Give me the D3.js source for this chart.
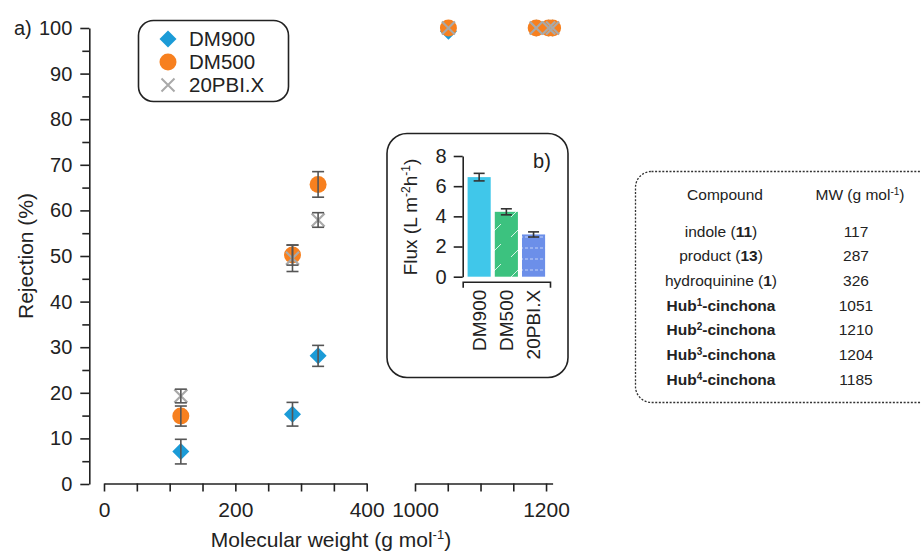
<!doctype html>
<html>
<head>
<meta charset="utf-8">
<title>Rejection vs molecular weight</title>
<style>
  body { margin: 0; background: #fff; }
  svg { font-family: "Liberation Sans", Arial, sans-serif; }
  .axis path, .axis line { stroke: #222; stroke-width: 1.6px; }
  .axis text { fill: #222; }
</style>
<script src="https://cdn.jsdelivr.net/npm/d3@7"></script>
</head>
<body>
<script>
// --- data ---------------------------------------------------------------
var compoundMW = [117, 287, 326, 1051, 1210, 1204, 1185];
var dm900 = [7.1, 15.3, 28.1, 99.3, 100, 100, 100];
var dm900Err = [2.7, 2.6, 2.3, 0, 0, 0, 0];
var dm500 = [14.9, 50.2, 65.7, 100, 100, 100, 100];
var dm500Err = [2.2, 2.2, 2.8, 0, 0, 0, 0];
var pbi = [19.3, 49.5, 57.9, 100, 100, 100, 100];
var pbiErr = [1.5, 2.9, 1.6, 0, 0, 0, 0];

var membranes = ["DM900", "DM500", "20PBI.X"];
var flux = [6.6, 4.3, 2.8];
var fluxErr = [0.25, 0.2, 0.17];

// table rows: list of [text, bold, superscript]
var compoundNames = [
  [["indole (", 0, 0], ["11", 1, 0], [")", 0, 0]],
  [["product (", 0, 0], ["13", 1, 0], [")", 0, 0]],
  [["hydroquinine (", 0, 0], ["1", 1, 0], [")", 0, 0]],
  [["Hub", 1, 0], ["1", 1, 1], ["-cinchona", 1, 0]],
  [["Hub", 1, 0], ["2", 1, 1], ["-cinchona", 1, 0]],
  [["Hub", 1, 0], ["3", 1, 1], ["-cinchona", 1, 0]],
  [["Hub", 1, 0], ["4", 1, 1], ["-cinchona", 1, 0]]
];

var yTicks = d3.range(0, 101, 10);
var yMinor = d3.range(5, 100, 10);
var xTicksLow = d3.range(0, 401, 50);
var xTicksHigh = d3.range(1000, 1201, 50);

var blue = "#1b9bd7", orange = "#f7801f", grey = "#a9a9a9", errCol = "#555";

var svg = d3.select("body").append("svg")
    .attr("width", 921)
    .attr("height", 554);

// --- panel a ------------------------------------------------------------
var y = d3.scaleLinear().domain([0, 100]).range([484, 28]);
var xLow = d3.scaleLinear().domain([0, 400]).range([104, 366.7]);
var xHigh = d3.scaleLinear().domain([1000, 1210]).range([415, 552.6]);
function xPos(v) { return v < 700 ? xLow(v) : xHigh(v); }

svg.append("g").attr("class", "axis")
    .attr("transform", "translate(89.3,0)")
    .call(d3.axisLeft(y).tickValues(yTicks).tickSize(9).tickSizeOuter(0).tickPadding(8))
    .selectAll("text").style("font-size", "20px");

svg.append("g").attr("class", "axis")
    .attr("transform", "translate(89.3,0)")
    .call(d3.axisLeft(y).tickValues(yMinor).tickSize(7).tickFormat(""))
    .select(".domain").remove();

svg.append("g").attr("class", "axis")
    .attr("transform", "translate(0,483.5)")
    .call(d3.axisBottom(xLow).tickValues(xTicksLow).tickSize(8).tickSizeOuter(0).tickPadding(11)
        .tickFormat(function(d) { return d % 200 === 0 ? d : ""; }))
    .selectAll("text").style("font-size", "21px");

svg.append("g").attr("class", "axis")
    .attr("transform", "translate(0,483.5)")
    .call(d3.axisBottom(xHigh).tickValues(xTicksHigh).tickSize(8).tickSizeOuter(0).tickPadding(11)
        .tickFormat(function(d) { return d % 200 === 0 ? d : ""; }))
    .selectAll("text").style("font-size", "21px");

svg.append("text")
    .attr("x", 14).attr("y", 35)
    .style("font-size", "20px").attr("fill", "#222")
    .text("a)");

svg.append("text")
    .attr("transform", "translate(33,256)rotate(-90)")
    .attr("text-anchor", "middle")
    .style("font-size", "21px").attr("fill", "#222")
    .text("Rejection (%)");

var xt = svg.append("text")
    .attr("x", 331).attr("y", 547)
    .attr("text-anchor", "middle")
    .style("font-size", "21px").attr("fill", "#222");
xt.append("tspan").text("Molecular weight (g mol");
xt.append("tspan").attr("dy", -8).style("font-size", "13px").text("-1");
xt.append("tspan").attr("dy", 8).text(")");

var diamond = "M0,-8.5L8.5,0L0,8.5L-8.5,0Z";
var cross = "M-6.5,-6.5L6.5,6.5M-6.5,6.5L6.5,-6.5";

function points(vals) {
    return vals.map(function(v, i) { return { x: compoundMW[i], y: v }; });
}

var marks = svg.append("g");
marks.selectAll(".d900").data(points(dm900)).enter().append("path")
    .attr("d", diamond).attr("fill", blue)
    .attr("transform", function(d) { return "translate(" + xPos(d.x) + "," + y(d.y) + ")"; });
marks.selectAll(".d500").data(points(dm500)).enter().append("circle")
    .attr("r", 8.5).attr("fill", orange)
    .attr("cx", function(d) { return xPos(d.x); })
    .attr("cy", function(d) { return y(d.y); });
marks.selectAll(".pbi").data(points(pbi)).enter().append("path")
    .attr("d", cross).attr("stroke", grey).attr("stroke-width", 2.2).attr("fill", "none")
    .attr("transform", function(d) { return "translate(" + xPos(d.x) + "," + y(d.y) + ")"; });

function errorBars(vals, errs) {
    var rows = vals.map(function(v, i) { return { x: compoundMW[i], y: v, e: errs[i] }; })
        .filter(function(d) { return d.e > 0; });
    var g = svg.append("g").attr("stroke", errCol).attr("stroke-width", 1.6);
    rows.forEach(function(d) {
        var cx = xPos(d.x);
        g.append("line").attr("x1", cx).attr("x2", cx).attr("y1", y(d.y - d.e)).attr("y2", y(d.y + d.e));
        g.append("line").attr("x1", cx - 6).attr("x2", cx + 6).attr("y1", y(d.y - d.e)).attr("y2", y(d.y - d.e));
        g.append("line").attr("x1", cx - 6).attr("x2", cx + 6).attr("y1", y(d.y + d.e)).attr("y2", y(d.y + d.e));
    });
}
errorBars(dm900, dm900Err);
errorBars(dm500, dm500Err);
errorBars(pbi, pbiErr);

// legend
var legend = svg.append("g");
legend.append("rect")
    .attr("x", 138.5).attr("y", 20.5).attr("width", 150).attr("height", 81)
    .attr("rx", 15).attr("fill", "#fff").attr("stroke", "#222").attr("stroke-width", 1.6);
[0, 1, 2].forEach(function(i) {
    var ly = 39 + i * 23;
    if (i === 0) legend.append("path").attr("d", diamond).attr("fill", blue)
        .attr("transform", "translate(168," + ly + ")");
    if (i === 1) legend.append("circle").attr("r", 8.5).attr("fill", orange)
        .attr("cx", 168).attr("cy", ly);
    if (i === 2) legend.append("path").attr("d", cross).attr("stroke", grey)
        .attr("stroke-width", 2).attr("fill", "none")
        .attr("transform", "translate(168," + ly + ")");
    legend.append("text").attr("x", 189).attr("y", ly + 7)
        .style("font-size", "20.5px").attr("fill", "#222")
        .text(membranes[i]);
});

// --- panel b (inset) ----------------------------------------------------
var defs = svg.append("defs");
var p1 = defs.append("pattern").attr("id", "diag")
    .attr("patternUnits", "userSpaceOnUse").attr("width", 23).attr("height", 20);
p1.append("rect").attr("width", 23).attr("height", 20).attr("fill", "#3cc27f");
p1.append("path").attr("d", "M5,17L18,4").attr("stroke", "#fff").attr("stroke-opacity", 0.8).attr("stroke-width", 1);
var p2 = defs.append("pattern").attr("id", "dash")
    .attr("patternUnits", "userSpaceOnUse").attr("width", 5).attr("height", 11);
p2.append("rect").attr("width", 5).attr("height", 11).attr("fill", "#6c8fe9");
p2.append("path").attr("d", "M0,6H3").attr("stroke", "#fff").attr("stroke-opacity", 0.6).attr("stroke-width", 1);
var barFill = ["#40c7ea", "url(#diag)", "url(#dash)"];

svg.append("rect")
    .attr("x", 387).attr("y", 133.5).attr("width", 181).attr("height", 244)
    .attr("rx", 20).attr("fill", "#fff").attr("stroke", "#222").attr("stroke-width", 1.6);

var yb = d3.scaleLinear().domain([0, 8]).range([276.7, 156]);
var xb = d3.scaleBand().domain(membranes).range([462.7, 550])
    .paddingInner(0.15).paddingOuter(0.18);

svg.selectAll(".bar").data(membranes).enter().append("rect")
    .attr("x", function(d) { return xb(d); })
    .attr("width", xb.bandwidth())
    .attr("y", function(d, i) { return yb(flux[i]); })
    .attr("height", function(d, i) { return yb(0) - yb(flux[i]); })
    .attr("fill", function(d, i) { return barFill[i]; });

var eb = svg.append("g").attr("stroke", "#333").attr("stroke-width", 1.6);
membranes.forEach(function(m, i) {
    var cx = xb(m) + xb.bandwidth() / 2;
    eb.append("line").attr("x1", cx).attr("x2", cx).attr("y1", yb(flux[i] - fluxErr[i])).attr("y2", yb(flux[i] + fluxErr[i]));
    eb.append("line").attr("x1", cx - 5.5).attr("x2", cx + 5.5).attr("y1", yb(flux[i] - fluxErr[i])).attr("y2", yb(flux[i] - fluxErr[i]));
    eb.append("line").attr("x1", cx - 5.5).attr("x2", cx + 5.5).attr("y1", yb(flux[i] + fluxErr[i])).attr("y2", yb(flux[i] + fluxErr[i]));
});

svg.append("g").attr("class", "axis")
    .attr("transform", "translate(462.7,0)")
    .call(d3.axisLeft(yb).tickValues([0, 2, 4, 6, 8]).tickSize(9).tickSizeOuter(0).tickPadding(7))
    .selectAll("text").style("font-size", "20px");

var xbAxis = svg.append("g").attr("class", "axis")
    .attr("transform", "translate(0,281.7)")
    .call(d3.axisBottom(xb).tickSizeInner(0).tickSizeOuter(6).tickPadding(0));
xbAxis.selectAll("text")
    .style("font-size", "19px")
    .attr("text-anchor", "end")
    .attr("transform", "rotate(-90)")
    .attr("x", -8).attr("y", 0).attr("dy", "0.36em");

var ft = svg.append("text")
    .attr("transform", "translate(417,217)rotate(-90)")
    .attr("text-anchor", "middle")
    .style("font-size", "19px").attr("fill", "#222");
ft.append("tspan").text("Flux (L m");
ft.append("tspan").attr("dy", -7).style("font-size", "12px").text("-2");
ft.append("tspan").attr("dy", 7).text("h");
ft.append("tspan").attr("dy", -7).style("font-size", "12px").text("-1");
ft.append("tspan").attr("dy", 7).text(")");

svg.append("text")
    .attr("x", 542).attr("y", 168).attr("text-anchor", "middle")
    .style("font-size", "20px").attr("fill", "#222")
    .text("b)");

// --- compound table -----------------------------------------------------
svg.append("rect")
    .attr("x", 635.5).attr("y", 171.5).attr("width", 310).attr("height", 231)
    .attr("rx", 16).attr("fill", "none").attr("stroke", "#333")
    .attr("stroke-width", 1.3).attr("stroke-dasharray", "2,1.6");

var table = svg.append("g").style("font-size", "15.5px").attr("fill", "#222");
table.append("text").attr("x", 725).attr("y", 200).attr("text-anchor", "middle").text("Compound");
var mwHead = table.append("text").attr("x", 860).attr("y", 200).attr("text-anchor", "middle");
mwHead.append("tspan").text("MW (g mol");
mwHead.append("tspan").attr("dy", -5).style("font-size", "10px").text("-1");
mwHead.append("tspan").attr("dy", 5).text(")");

compoundNames.forEach(function(parts, i) {
    var ry = 236.5 + i * 24.7;
    var t = table.append("text").attr("x", 721).attr("y", ry).attr("text-anchor", "middle");
    parts.forEach(function(p, j) {
        var s = t.append("tspan").text(p[0]).style("font-weight", p[1] ? "bold" : "normal");
        if (p[2]) s.attr("dy", -5).style("font-size", "10px");
        else if (j > 0 && parts[j - 1][2]) s.attr("dy", 5);
    });
    table.append("text").attr("x", 856).attr("y", ry).attr("text-anchor", "middle").text(compoundMW[i]);
});
</script>
</body>
</html>
